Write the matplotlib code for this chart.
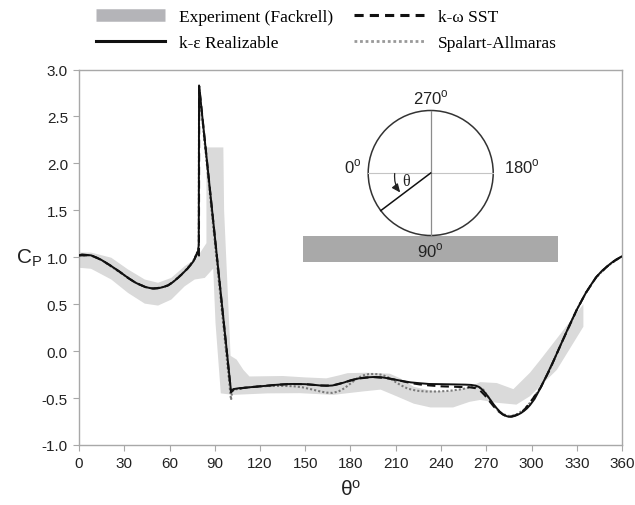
import matplotlib
matplotlib.use('Agg')
import matplotlib.pyplot as plt
import matplotlib.patches as mpatches
from matplotlib.lines import Line2D

plt.rcParams['font.family'] = ['Liberation Sans', 'DejaVu Sans']
plt.rcParams['mathtext.fontset'] = 'custom'
plt.rcParams['mathtext.rm'] = 'Liberation Sans'

# experiment band (Fackrell), upper and lower edge
exp_upper_theta = [0, 8, 21.4, 32.5, 43.6, 52.4, 61.2, 70.1, 76.7, 80, 84.5, 84.5, 95.7, 96.2,
                   100.5, 104.5, 109, 113, 135, 150, 164, 172, 178, 190, 206, 213, 222, 233,
                   244, 252, 259, 266, 277, 288, 299, 306, 320, 334.4]
exp_upper_cp = [1.05, 1.05, 0.995, 0.87, 0.763, 0.728, 0.78, 0.905, 0.976, 1.04, 1.15, 2.17, 2.17, 1.5,
                -0.05, -0.09, -0.2, -0.27, -0.265, -0.28, -0.29, -0.26, -0.235, -0.23, -0.24, -0.29, -0.38, -0.42,
                -0.43, -0.41, -0.38, -0.33, -0.34, -0.405, -0.23, -0.09, 0.2, 0.5]
exp_lower_theta = [0, 8, 21.4, 32.5, 43.6, 52.4, 61.2, 70.1, 76.7, 83.4, 89, 90.5, 93.5, 94,
                   102.3, 125, 146.5, 168.6, 188, 200, 211, 222, 233, 248, 259, 266, 277, 290,
                   299, 316.8, 334.4]
exp_lower_cp = [0.888, 0.877, 0.763, 0.62, 0.506, 0.485, 0.549, 0.691, 0.763, 0.78, 0.88, 0.3, -0.34, -0.45,
                -0.466, -0.45, -0.448, -0.466, -0.43, -0.41, -0.484, -0.56, -0.6, -0.6, -0.54, -0.52, -0.55, -0.57,
                -0.48, -0.2, 0.26]

# k-epsilon realizable
ke_theta = [0, 2, 5, 8, 12, 15, 18, 21, 24, 27, 30, 33, 36, 38, 41, 44, 47, 49, 52, 54, 57, 59, 61, 63, 66, 68, 70,
            72, 74, 76, 78, 78.9, 79.4, 79.6, 100.8,
            102.3, 106, 110, 115, 120, 125, 130, 135, 140, 145, 150, 155, 160, 164, 168, 172, 176, 180, 185,
            190, 195, 200, 205, 210, 215, 220, 226, 232, 240,
            250, 256, 260, 263, 265, 267, 269, 271, 273, 275, 277, 279, 281, 283, 285, 287, 289, 291, 293,
            295, 297, 299, 302, 306, 310, 315, 320, 325, 330,
            333, 336, 340, 343, 347, 350, 353, 356, 360]
ke_cp = [1.02, 1.03, 1.025, 1.02, 0.995, 0.97, 0.94, 0.91, 0.878, 0.845, 0.81, 0.775, 0.743, 0.725, 0.703, 0.683, 0.672, 0.667, 0.668,
         0.675, 0.688, 0.7, 0.72, 0.745, 0.785, 0.816, 0.848, 0.88, 0.918, 0.96, 1.03, 1.065, 1.13, 2.83, -0.43,
         -0.405, -0.395, -0.39, -0.382, -0.375, -0.368, -0.36, -0.354, -0.35, -0.35, -0.352, -0.358, -0.366, -0.37, -0.366, -0.352,
         -0.333, -0.31, -0.292, -0.28, -0.276, -0.277, -0.29, -0.305, -0.32, -0.333, -0.342, -0.35, -0.352,
         -0.355, -0.357, -0.36, -0.368, -0.38, -0.405, -0.44, -0.48, -0.525, -0.57, -0.61, -0.645, -0.673, -0.69, -0.7, -0.698,
         -0.69, -0.677, -0.66, -0.637, -0.61, -0.575, -0.51, -0.39, -0.26, -0.09, 0.09, 0.27, 0.44,
         0.53, 0.62, 0.72, 0.79, 0.86, 0.9, 0.94, 0.975, 1.01]

# k-omega SST
sst_theta = [0, 8, 15, 21, 27, 33, 38, 44, 49, 54, 59, 63, 68, 72, 76, 78.5, 79.5, 79.7, 100.8,
             102.3, 110, 120, 130, 140, 150, 160, 168, 176, 185, 195, 205, 213, 220, 226, 232, 240,
             250, 259, 263, 266, 269, 272, 275, 278, 281, 284, 287, 290, 295, 299, 306, 312, 320, 330,
             336, 343, 350, 355, 360]
sst_cp = [1.02, 1.02, 0.97, 0.91, 0.845, 0.775, 0.725, 0.683, 0.667, 0.675, 0.7, 0.745, 0.816, 0.88, 0.96, 1.05, 1.0, 2.82, -0.44,
          -0.41, -0.39, -0.375, -0.36, -0.35, -0.352, -0.366, -0.366, -0.333, -0.292, -0.276, -0.29, -0.315, -0.34, -0.355, -0.365, -0.375,
          -0.38, -0.385, -0.395, -0.42, -0.47, -0.53, -0.59, -0.64, -0.675, -0.7, -0.695, -0.68, -0.63, -0.55, -0.39, -0.2, 0.09, 0.44,
          0.62, 0.79, 0.9, 0.96, 1.01]

# Spalart-Allmaras
sa_theta = [0, 8, 15, 21, 27, 33, 38, 44, 49, 54, 59, 63, 68, 72, 76, 78.9, 79.4, 79.6, 100.8,
            101.5, 103, 110, 118, 125, 135, 142, 148, 155, 160, 164, 168, 172, 176, 180, 184, 188, 192, 196, 200, 204,
            208, 213, 218, 224, 230, 238, 246, 254, 261, 265, 268, 271, 274, 277, 280, 284, 287,
            290, 295, 299, 306, 312, 320, 330, 336, 343, 350, 355, 360]
sa_cp = [1.02, 1.02, 0.97, 0.905, 0.84, 0.775, 0.725, 0.683, 0.667, 0.676, 0.7, 0.745, 0.818, 0.885, 0.97, 1.07, 1.12, 2.8, -0.52,
         -0.43, -0.41, -0.39, -0.378, -0.372, -0.37, -0.374, -0.385, -0.41, -0.43, -0.442, -0.445, -0.43, -0.395, -0.345, -0.295, -0.26,
         -0.245, -0.243, -0.25, -0.27, -0.31, -0.36, -0.4, -0.422, -0.43, -0.43, -0.422, -0.405, -0.378, -0.38, -0.41, -0.48, -0.56,
         -0.62, -0.66, -0.69, -0.69, -0.675, -0.625, -0.55, -0.39, -0.2, 0.09, 0.44, 0.62, 0.79, 0.9, 0.96, 1.01]

x_ticks = list(range(0, 361, 30))
y_ticks = [-1.0, -0.5, 0.0, 0.5, 1.0, 1.5, 2.0, 2.5, 3.0]

W, H = 635, 506
fig = plt.figure(figsize=(W / 100, H / 100), dpi=100)
ax = fig.add_axes([79 / W, 1 - 446 / H, 543 / W, 375.5 / H])

band_col = '#dadada'
ax.fill(exp_upper_theta + exp_lower_theta[::-1], exp_upper_cp + exp_lower_cp[::-1],
        color=band_col, lw=0, zorder=1)
ax.plot(sa_theta, sa_cp, color='#7a7a7a', lw=1.5, ls=(0, (1, 1)), zorder=2)
ax.plot(sst_theta, sst_cp, color='#111111', lw=1.5, ls=(0, (4, 2.5)), zorder=3)
ax.plot(ke_theta, ke_cp, color='#111111', lw=1.4, zorder=4)

ax.set_xlim(0, 360)
ax.set_ylim(-1, 3)
ax.set_xticks(x_ticks)
ax.set_yticks(y_ticks)
ax.set_yticklabels(['%.1f' % v for v in y_ticks])
for s in ax.spines.values():
    s.set_color('#a8a8a8')
    s.set_linewidth(1.0)
ax.tick_params(direction='out', length=4, color='#a8a8a8', labelsize=11, labelcolor='#222222', pad=4)
ax.set_xlabel(r'$\mathregular{\theta^o}$', fontsize=15, color='#222222', labelpad=6)
ax.set_ylabel(r'C$_\mathregular{P}$', fontsize=15, color='#222222', rotation=0, ha='center', va='center')
ax.yaxis.set_label_coords(-0.092, 0.5)

# inset sketch of cylinder on ground
ins = fig.add_axes([300 / W, 1 - 265 / H, 260 / W, 175 / H])
ins.set_xlim(-130.7, 129.3)
ins.set_ylim(-91, 84)
ins.axis('off')
ins.patch.set_visible(False)
ins.add_patch(mpatches.Rectangle((-128, -89.3), 255, 26, fc='#a9a9a9', ec='none'))
ins.plot([-62.5, 62.5], [0, 0], color='#c4c4c4', lw=0.8)
ins.plot([0, 0], [62.5, -62.5], color='#8c8c8c', lw=0.9)
ins.add_patch(mpatches.Circle((0, 0), 62.5, fill=False, ec='#333333', lw=1.1))
ins.plot([0, -49.9], [0, -37.6], color='#111111', lw=1.1)
ins.annotate('', xy=(-30.5, -19.5), xytext=(-36, -0.5),
             arrowprops=dict(arrowstyle='-|>,head_length=0.5,head_width=0.22', color='#222222', lw=0.9,
                             connectionstyle='arc3,rad=0.2', shrinkA=0, shrinkB=0))
ins.text(-25, -8, 'θ', family=['Liberation Serif', 'DejaVu Serif'], fontsize=11.5, ha='center', va='center', color='#222222')
lab = dict(fontsize=12, color='#222222', ha='center', va='center')
ins.text(0, 76, r'270$^\mathregular{o}$', **lab)
ins.text(-78, 7, r'0$^\mathregular{o}$', **lab)
ins.text(91, 7, r'180$^\mathregular{o}$', **lab)
ins.text(0, -77, r'90$^\mathregular{o}$', **lab)

handles = [
    Line2D([], [], color='#b4b4b8', lw=9, solid_capstyle='butt'),
    Line2D([], [], color='#111111', lw=2.2),
    Line2D([], [], color='#111111', lw=2.2, ls=(0, (3, 2))),
    Line2D([], [], color='#999999', lw=2.0, ls=(0, (1, 1))),
]
labels = ['Experiment (Fackrell)', 'k-ε Realizable', 'k-ω SST', 'Spalart-Allmaras']
fig.legend(handles, labels, ncol=2, loc='upper left', bbox_to_anchor=(96 / W, 1 - 10 / H),
           frameon=False, handlelength=4.0, handletextpad=0.8, columnspacing=1.2,
           labelspacing=0.55, borderpad=0, borderaxespad=0,
           prop={'family': ['Liberation Serif', 'DejaVu Serif'], 'size': 12.5})

fig.savefig('out.png', dpi=100)
